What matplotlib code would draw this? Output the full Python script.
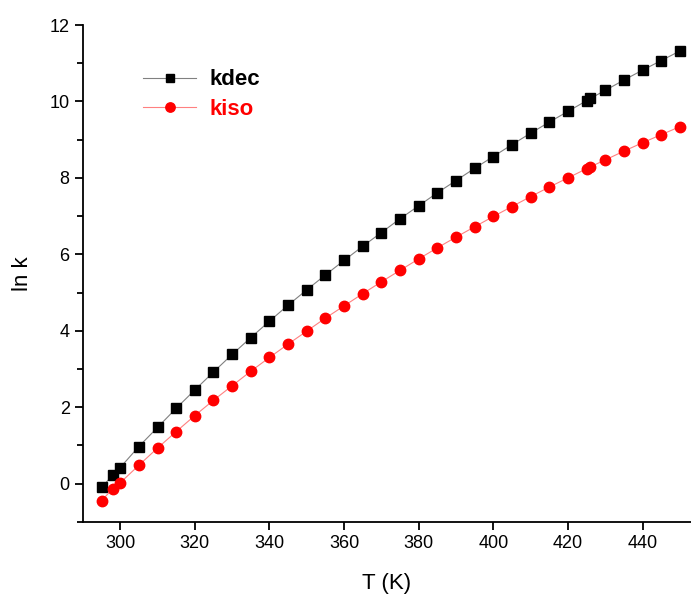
import matplotlib
matplotlib.use("Agg")
import matplotlib.pyplot as plt
import numpy as np

plt.rcParams.update({
    "font.family": ["Liberation Sans", "DejaVu Sans"],
    "font.size": 13,
})

# temperatures (K)
T = [295, 298, 300, 305, 310, 315, 320, 325, 330, 335, 340, 345, 350, 355,
     360, 365, 370, 375, 380, 385, 390, 395, 400, 405, 410, 415, 420, 425,
     426, 430, 435, 440, 445, 450]

# ln k values
kdec = [-0.10, 0.22, 0.42, 0.97, 1.47, 1.97, 2.45, 2.92, 3.38, 3.82, 4.25,
        4.67, 5.07, 5.46, 5.84, 6.21, 6.57, 6.93, 7.27, 7.61, 7.93, 8.25,
        8.56, 8.87, 9.17, 9.46, 9.74, 10.02, 10.08, 10.29, 10.56, 10.82,
        11.07, 11.32]
kiso = [-0.45, -0.13, 0.02, 0.48, 0.93, 1.36, 1.78, 2.18, 2.56, 2.94, 3.30,
        3.65, 3.99, 4.33, 4.65, 4.97, 5.28, 5.58, 5.88, 6.17, 6.45, 6.72,
        6.99, 7.25, 7.51, 7.76, 8.00, 8.24, 8.29, 8.47, 8.70, 8.92, 9.13,
        9.34]

fig = plt.figure(figsize=(6.91, 5.97), dpi=100)
ax = fig.add_axes([0.120, 0.126, 0.880, 0.832])

ax.plot(T, kdec, color="#808080", linewidth=0.8, marker="s", markersize=6.5,
        markerfacecolor="black", markeredgecolor="black", label="kdec")
ax.plot(T, kiso, color="#ff8080", linewidth=0.8, marker="o", markersize=7.5,
        markerfacecolor="red", markeredgecolor="red", label="kiso")

ax.set_xlim(290, 453)
ax.set_ylim(-1, 12)
ax.set_xticks(np.arange(300, 441, 20))
ax.set_yticks(np.arange(0, 13, 2))
ax.set_yticks(np.arange(-1, 12, 2), minor=True)

for s in ["top", "right"]:
    ax.spines[s].set_visible(False)
for s in ["left", "bottom"]:
    ax.spines[s].set_linewidth(1.3)
ax.tick_params(which="major", direction="out", length=6, width=1.3, labelsize=13)
ax.tick_params(which="minor", direction="out", length=4, width=1.3)

ax.set_xlabel("T (K)", fontsize=16, labelpad=15)
ax.set_ylabel("ln k", fontsize=16, labelpad=12)

leg = ax.legend(loc="upper left", bbox_to_anchor=(0.099, 0.911), frameon=False,
                prop={"weight": "bold", "size": 16}, handlelength=2.4,
                handletextpad=0.6, labelspacing=0.4, borderpad=0,
                borderaxespad=0, markerscale=0.9)
leg.get_texts()[1].set_color("red")

plt.savefig("out.png", dpi=100)
